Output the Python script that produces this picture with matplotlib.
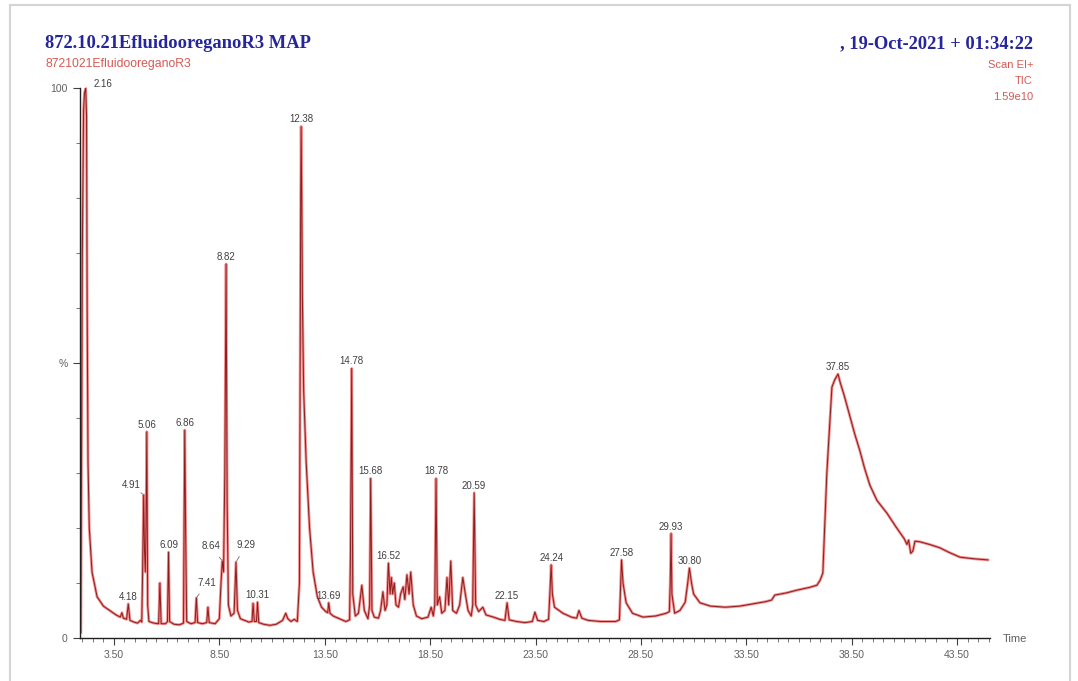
import numpy as np
import matplotlib
matplotlib.use("Agg")
import matplotlib.pyplot as plt
from matplotlib.lines import Line2D
from matplotlib.ticker import MultipleLocator, FixedLocator

# labelled peaks: retention time (min) and relative intensity (%)
peak_rt = [2.16, 4.18, 4.91, 5.06, 6.09, 6.86, 7.41, 8.64, 8.82, 9.29, 10.31,
           12.38, 13.69, 14.78, 15.68, 16.52, 18.78, 20.59, 22.15, 24.24,
           27.58, 29.93, 30.80, 37.85]
peak_pct = [100, 6.2, 26, 37.5, 15.6, 37.8, 7.3, 14, 68, 13.8, 6.5,
            93, 6.4, 49, 29, 13.6, 29, 26.4, 6.4, 13.3,
            14.2, 19, 12.7, 48]

# label offsets in pixels (dx, dy) for labels that sit beside their peak
leader_offsets = {2.16: (17, 4), 4.91: (-12, 10), 8.64: (-11, 15),
                  9.29: (10, 17), 7.41: (11, 15)}

# rest of the TIC trace (baseline, tails, unlabelled peaks)
trace_time = [1.93, 2.0, 2.06, 2.1, 2.2, 2.23, 2.27, 2.33, 2.46, 2.7, 3.0,
              3.3, 3.6, 3.8, 3.88, 3.95, 4.1, 4.26, 4.45, 4.62, 4.75, 4.82,
              4.86, 4.95, 4.99, 5.02, 5.1, 5.16, 5.4, 5.62, 5.68, 5.74, 5.95,
              6.04, 6.14, 6.35, 6.6, 6.8, 6.83, 6.9, 6.95, 7.15, 7.35, 7.47,
              7.7, 7.9, 7.96, 8.02, 8.3, 8.5, 8.58, 8.7, 8.76, 8.87, 8.93,
              9.05, 9.2, 9.36, 9.5, 9.7, 9.9, 10.05, 10.1, 10.16, 10.26,
              10.37, 10.6, 10.9, 11.2, 11.5, 11.65, 11.75, 11.9, 12.05, 12.2,
              12.3, 12.34, 12.36, 12.41, 12.44, 12.5, 12.62, 12.78, 12.95,
              13.15, 13.35, 13.55, 13.64, 13.75, 13.9, 14.2, 14.5, 14.68,
              14.72, 14.83, 14.95, 15.1, 15.26, 15.38, 15.55, 15.63, 15.74,
              15.85, 16.05, 16.15, 16.26, 16.36, 16.45, 16.6, 16.66, 16.72,
              16.8, 16.88, 17.0, 17.1, 17.22, 17.3, 17.4, 17.5, 17.58, 17.7,
              17.85, 18.1, 18.4, 18.55, 18.65, 18.72, 18.84, 18.95, 19.05,
              19.2, 19.3, 19.38, 19.48, 19.57, 19.75, 19.9, 20.05, 20.17,
              20.3, 20.45, 20.52, 20.66, 20.8, 21.0, 21.15, 21.5, 21.8, 22.05,
              22.25, 22.6, 23.0, 23.35, 23.47, 23.6, 23.9, 24.12, 24.18, 24.3,
              24.4, 24.8, 25.2, 25.45, 25.56, 25.7, 26.0, 26.6, 27.3, 27.48,
              27.53, 27.65, 27.8, 28.1, 28.6, 29.2, 29.7, 29.85, 29.89, 29.97,
              30.1, 30.35, 30.6, 30.72, 30.9, 31.0, 31.3, 31.8, 32.5, 33.2,
              33.8, 34.4, 34.7, 34.85, 35.4, 35.9, 36.5, 36.85, 37.0, 37.13,
              37.32, 37.56, 37.7, 37.95, 38.15, 38.4, 38.65, 38.89, 39.1,
              39.36, 39.7, 40.17, 40.6, 41.0, 41.12, 41.2, 41.3, 41.4, 41.5,
              41.73, 42.2, 42.68, 43.1, 43.63, 44.3, 44.96]
trace_pct = [1.0, 70, 96, 99, 95, 60, 32, 20, 12, 7.5, 5.8,
             5.0, 4.2, 3.8, 4.6, 3.6, 3.4, 3.2, 2.9, 2.7, 3.2, 2.9,
             12, 16, 12, 20, 6, 3.0, 2.7, 2.6, 10, 2.6, 2.6,
             3.0, 3.0, 2.5, 2.4, 2.7, 22, 20, 3.0, 2.6, 2.8, 2.8,
             2.6, 2.8, 5.6, 2.8, 2.6, 3.5, 10, 12, 30, 25, 6,
             4, 4.5, 5, 3.5, 3.2, 2.9, 3.0, 6.3, 3.0, 3.0,
             2.8, 2.5, 2.3, 2.5, 3.2, 4.5, 3.5, 3.0, 3.4, 3.0,
             10, 60, 80, 80, 62, 45, 32, 20, 12,
             7.5, 5.6, 4.8, 4.6, 4.5, 4.0, 3.5, 3.0, 3.3,
             15, 8, 4.0, 4.5, 9.6, 5, 3.5, 6, 5,
             3.8, 3.6, 5.0, 8.4, 5, 6, 8, 11, 8,
             10, 6, 5.6, 8, 9.3, 7, 11.5, 8, 12, 6,
             4, 3.5, 3.8, 5.6, 4.0, 6, 6, 7.5, 4.5,
             5.0, 11, 6, 14, 5, 4.5, 6, 11, 8,
             5, 4, 6, 6, 4.8, 5.6, 4.2, 3.8, 3.4, 3.2,
             3.3, 3.0, 2.8, 3.0, 4.7, 3.2, 3.0, 3.4, 8, 8,
             5.6, 4.5, 3.8, 3.6, 5.0, 3.6, 3.2, 3.0, 3.0, 3.3,
             9, 10, 6.4, 4.5, 3.8, 4.0, 4.5, 4.8, 10, 8,
             4.5, 5.0, 6.5, 10, 10, 8, 6.4, 5.8, 5.6, 5.8,
             6.2, 6.6, 6.9, 7.8, 8.2, 8.7, 9.2, 9.6, 10.5, 11.8,
             30, 45.6, 47, 46.5, 44, 40.5, 37, 34, 31,
             27.8, 25, 22.7, 20.2, 18, 17, 17.8, 15.4, 15.8, 17.6,
             17.5, 17, 16.4, 15.6, 14.7, 14.4, 14.2]

x_major = np.arange(3.5, 44.0, 5.0)

# merge the labelled apexes into the trace
t_all = np.array(trace_time + peak_rt)
y_all = np.array(trace_pct + peak_pct)
order = np.argsort(t_all)
t_all, y_all = t_all[order], y_all[order]

W, H = 1078, 681
fig = plt.figure(figsize=(W / 100, H / 100), dpi=100)
fig.patch.set_facecolor("white")

ax = fig.add_axes([80 / W, 1 - 638 / H, 910 / W, 550 / H])
ax.set_xlim(1.89, 45.06)
ax.set_ylim(0, 100)

ax.plot(t_all, y_all, color="#e43030", lw=2.0, alpha=0.55, solid_joinstyle="round")
ax.plot(t_all, y_all, color="#8e1c1c", lw=0.7, solid_joinstyle="round")

for rt, pct in zip(peak_rt, peak_pct):
    if rt in leader_offsets:
        dx, dy = leader_offsets[rt]
        ax.annotate(f"{rt:.2f}", xy=(rt, pct), xytext=(dx, dy),
                    textcoords="offset pixels", ha="center", va="center",
                    fontsize=7, color="#404040", family="Liberation Sans",
                    arrowprops=dict(arrowstyle="-", color="#707070", lw=0.6,
                                    shrinkA=3, shrinkB=1))
    else:
        ax.annotate(f"{rt:.2f}", xy=(rt, pct), xytext=(0, 2),
                    textcoords="offset pixels", ha="center", va="bottom",
                    fontsize=7, color="#404040", family="Liberation Sans")

for side in ("top", "right"):
    ax.spines[side].set_visible(False)
for side in ("left", "bottom"):
    ax.spines[side].set_color("#202020")
    ax.spines[side].set_linewidth(1.0)

ax.xaxis.set_major_locator(FixedLocator(x_major))
ax.xaxis.set_minor_locator(MultipleLocator(0.5))
ax.set_xticklabels([f"{v:.2f}" for v in x_major])
ax.yaxis.set_major_locator(FixedLocator([0, 50, 100]))
ax.yaxis.set_minor_locator(MultipleLocator(10))
ax.set_yticklabels(["0", "%", "100"])
ax.tick_params(which="major", direction="out", length=5, width=0.8,
               color="#404040", labelsize=7.5, labelcolor="#606060", pad=4)
ax.tick_params(which="minor", direction="out", length=3, width=0.6,
               color="#606060")
for lbl in ax.get_xticklabels() + ax.get_yticklabels():
    lbl.set_family("Liberation Sans")

fig.text(1003 / W, 1 - 639 / H, "Time", fontsize=8, color="#606060",
         family="Liberation Sans", ha="left", va="center")

# header block
fig.text(45 / W, 1 - 44 / H, "872.10.21EfluidooreganoR3 MAP", fontsize=13.3,
         fontweight="bold", family="Liberation Serif", color="#25259c",
         ha="left", va="center")
fig.text(45 / W, 1 - 64 / H, "8721021EfluidooreganoR3", fontsize=8.8,
         family="Liberation Sans", color="#d55a55", ha="left", va="center")
fig.text(1033 / W, 1 - 44 / H, ", 19-Oct-2021 + 01:34:22", fontsize=13.3,
         fontweight="bold", family="Liberation Serif", color="#25259c",
         ha="right", va="center")
for i, line in enumerate(["Scan EI+", "TIC", "1.59e10"]):
    fig.text(1033 / W, 1 - (65 + 16 * i) / H, line, fontsize=8,
             family="Liberation Sans", color="#d55a55", ha="right", va="center")

# light frame around the page
frame = dict(color="#d4d4d4", lw=1.5, transform=fig.transFigure)
fig.add_artist(Line2D([10 / W, 10 / W], [0, 1 - 5 / H], **frame))
fig.add_artist(Line2D([10 / W, 1070 / W], [1 - 5 / H, 1 - 5 / H], **frame))
fig.add_artist(Line2D([1070 / W, 1070 / W], [0, 1 - 5 / H], **frame))

fig.savefig("out.png", dpi=100)
